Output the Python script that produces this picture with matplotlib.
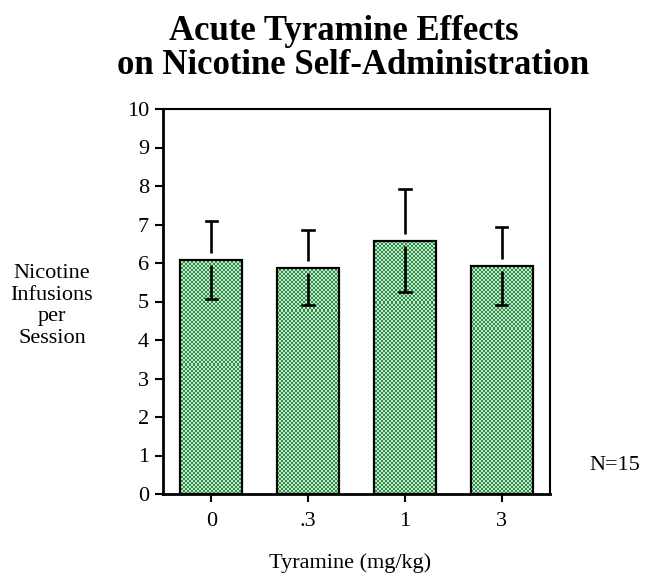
import numpy as np
import matplotlib
matplotlib.use("Agg")
import matplotlib.pyplot as plt
from matplotlib.patches import Rectangle

categories = ["0", ".3", "1", "3"]
means = [6.08, 5.88, 6.58, 5.93]
errors = [1.01, 0.98, 1.33, 1.01]

plt.rcParams['font.family'] = ['Liberation Serif', 'DejaVu Serif']

W, H = 649, 582
fig = plt.figure(figsize=(W/100, H/100), dpi=100)
L, R, T, B = 163, 550, 109, 494
ax = fig.add_axes([L/W, 1-B/H, (R-L)/W, (B-T)/H])
ax.set_xlim(-0.5, 3.5)
ax.set_ylim(0, 10)

x = np.arange(len(categories))
bw = 0.64
dark = np.array([0.18, 0.56, 0.28])
light = np.array([0.78, 0.91, 0.80])

# pixel-aligned checkerboard (2 px cells)
px_w = R - L; px_h = B - T
cell = 2
nx = px_w // cell + 1; ny = px_h // cell + 1
ii, jj = np.meshgrid(np.arange(nx), np.arange(ny))
chk = ((ii + jj) % 2)
img = np.where(chk[..., None] == 1, dark, light)
ext_x = nx * cell * 4.0 / px_w
ext_y = ny * cell * 10.0 / px_h

bars = ax.bar(x, means, width=bw, facecolor='none', edgecolor='black', linewidth=1.6, zorder=3)
for b in bars:
    im = ax.imshow(img, extent=(-0.5, -0.5 + ext_x, 0, ext_y), interpolation='nearest',
                   aspect='auto', zorder=2, origin='lower')
    clip = Rectangle((b.get_x(), 0), b.get_width(), b.get_height(), transform=ax.transData)
    im.set_clip_path(clip)
ax.set_xlim(-0.5, 3.5)
ax.set_ylim(0, 10)

gap_up, gap_dn = 0.17, 0.13
cap = 0.06
lw = 1.9
for xi, m, e in zip(x, means, errors):
    ax.plot([xi, xi], [m + gap_up, m + e], color='black', lw=lw, zorder=4, solid_capstyle='butt')
    ax.plot([xi - cap, xi + cap], [m + e, m + e], color='black', lw=lw, zorder=4)
    ax.plot([xi, xi], [m - gap_dn, m - e], color='black', lw=lw, zorder=4, solid_capstyle='butt')
    ax.plot([xi - cap, xi + cap], [m - e, m - e], color='black', lw=lw, zorder=4)

ax.set_xticks(x)
ax.set_xticklabels(categories, fontsize=16)
ax.set_yticks(range(0, 11))
ax.tick_params(axis='both', direction='out', length=6, width=1.5, labelsize=16, pad=4)
ax.tick_params(axis='x', pad=7)
for s in ['left', 'bottom']:
    ax.spines[s].set_linewidth(2.0)
for s in ['top', 'right']:
    ax.spines[s].set_linewidth(1.5)

fig.text(344/W, 1-40/H, "Acute Tyramine Effects", ha='center', va='baseline',
         fontsize=25, fontweight='bold')
fig.text(353/W, 1-74/H, "on Nicotine Self-Administration", ha='center', va='baseline',
         fontsize=25, fontweight='bold')
fig.text(52/W, 1-306/H, "Nicotine\nInfusions\nper\nSession", ha='center', va='center',
         fontsize=16, linespacing=1.2)
fig.text(615/W, 1-465/H, "N=15", ha='center', va='center', fontsize=16)
fig.text(350/W, 1-563/H, "Tyramine (mg/kg)", ha='center', va='center', fontsize=16)

fig.savefig("out.png", dpi=100)
